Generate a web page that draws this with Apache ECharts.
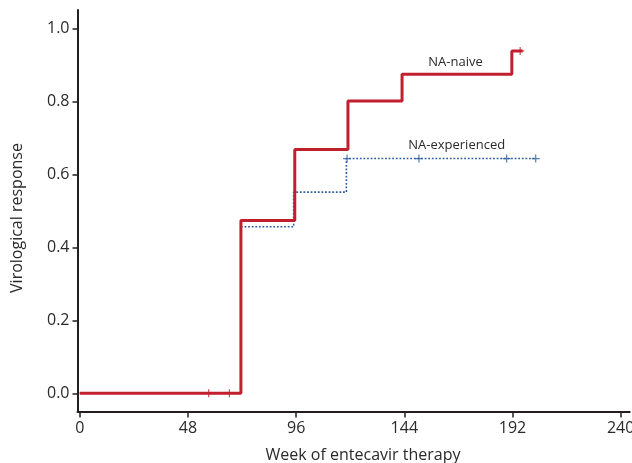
<!DOCTYPE html>
<html>
<head>
<meta charset="utf-8">
<script src="https://cdn.jsdelivr.net/npm/echarts@6/dist/echarts.min.js"></script>
<style>
html,body{margin:0;padding:0;background:#fff;}
#chart{width:632px;height:463px;}
</style>
</head>
<body>
<div id="chart"></div>
<script>
// Data
const xTicks = [0, 48, 96, 144, 192, 240];
const yTicks = [0, 0.2, 0.4, 0.6, 0.8, 1.0];

const naiveWeeks = [0, 71.5, 95.4, 119.0, 143.0, 191.7, 196.5];
const naiveValues = [0, 0.473, 0.668, 0.801, 0.874, 0.938, 0.938];
const naiveCensorWeeks = [57.2, 66.4, 195.4];
const naiveCensorValues = [0, 0, 0.938];

const expWeeks = [0, 71.5, 94.9, 118.3, 202.3];
const expValues = [0, 0.456, 0.551, 0.643, 0.643];
const expCensorWeeks = [118.6, 150.5, 189.4, 202.3];
const expCensorValues = [0.643, 0.643, 0.643, 0.643];

const seriesNames = ['NA-naive', 'NA-experienced'];
const xTitle = 'Week of entecavir therapy';
const yTitle = 'Virological response';

const RED = '#c01f2f';
const BLUE = '#2b5c9e';
const AXIS = '#231f20';
const TXT = '#2a2a2a';
const FONT = '"Open Sans", sans-serif';

const zip = (a, b) => a.map((v, i) => [v, b[i]]);
const plus = 'path://M3.4,0H4.6V3.4H8V4.6H4.6V8H3.4V4.6H0V3.4H3.4Z';

const chart = echarts.init(document.getElementById('chart'), null, {renderer: 'canvas'});
chart.setOption({
  animation: false,
  backgroundColor: '#ffffff',
  grid: {left: 77.5, right: 2.3, top: 10, bottom: 51.5, containLabel: false, outerBoundsMode: 'none'},
  xAxis: {
    type: 'value', min: -1, max: 244,
    axisLine: {show: true, onZero: false, lineStyle: {color: AXIS, width: 2}},
    axisTick: {show: true, length: 6, inside: false, customValues: xTicks, lineStyle: {color: AXIS, width: 1.5}},
    axisLabel: {show: true, customValues: xTicks, margin: 9, color: TXT, fontSize: 16, fontFamily: FONT},
    splitLine: {show: false}
  },
  yAxis: {
    type: 'value', min: -0.05, max: 1.05,
    axisLine: {show: true, onZero: false, lineStyle: {color: AXIS, width: 2}},
    axisTick: {show: true, length: 5, customValues: yTicks, lineStyle: {color: AXIS, width: 1.5}},
    axisLabel: {show: true, customValues: yTicks, margin: 8, color: TXT, fontSize: 16, fontFamily: FONT,
      formatter: v => Number(v).toFixed(1)},
    splitLine: {show: false}
  },
  graphic: [
    {type: 'text', style: {text: xTitle, x: 363, y: 455, textAlign: 'center', textVerticalAlign: 'middle', fill: TXT, font: '16px ' + FONT}, silent: true},
    {type: 'text', x: 17, y: 218, rotation: Math.PI / 2, style: {text: yTitle, x: 0, y: 0, textAlign: 'center', textVerticalAlign: 'middle', fill: TXT, font: '16px ' + FONT}, silent: true},
    {type: 'text', style: {text: seriesNames[0], x: 455.5, y: 62, textAlign: 'center', textVerticalAlign: 'middle', fill: TXT, font: '13px ' + FONT}, silent: true},
    {type: 'text', style: {text: seriesNames[1], x: 456.7, y: 145, textAlign: 'center', textVerticalAlign: 'middle', fill: TXT, font: '13px ' + FONT}, silent: true}
  ],
  series: [
    {
      name: seriesNames[1], type: 'line', step: 'end', data: zip(expWeeks, expValues),
      showSymbol: false, z: 2,
      lineStyle: {color: BLUE, width: 1.6, type: [1.8, 1.8]}
    },
    {
      name: seriesNames[1] + ' censored', type: 'scatter', data: zip(expCensorWeeks, expCensorValues),
      symbol: plus, symbolSize: [8, 8], itemStyle: {color: BLUE}, z: 3
    },
    {
      name: seriesNames[0], type: 'line', step: 'end', data: zip(naiveWeeks, naiveValues),
      showSymbol: false, z: 4,
      lineStyle: {color: RED, width: 3}
    },
    {
      name: seriesNames[0] + ' censored', type: 'scatter', data: zip(naiveCensorWeeks, naiveCensorValues),
      symbol: plus, symbolSize: [8, 8], itemStyle: {color: RED}, z: 5
    }
  ]
});
</script>
</body>
</html>
